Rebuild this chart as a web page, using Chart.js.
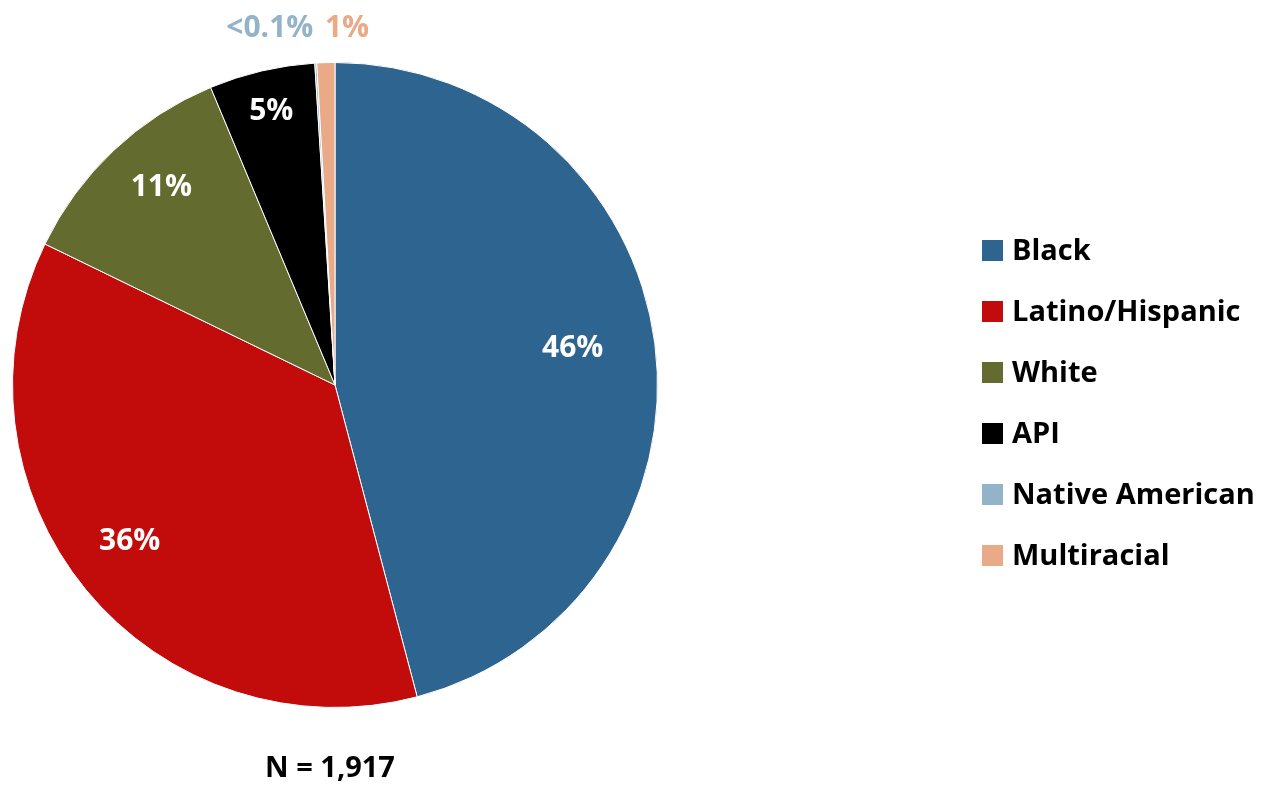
<!DOCTYPE html>
<html>
<head>
<meta charset="utf-8">
<script src="https://cdn.jsdelivr.net/npm/chart.js@4/dist/chart.umd.min.js"></script>
<style>
  html, body { margin: 0; padding: 0; background: #fff; }
  #wrap { width: 1274px; height: 785px; position: relative; }
</style>
</head>
<body>
<div id="wrap"><canvas id="myChart" width="1274" height="785"></canvas></div>
<script>
var categories = ["Black", "Latino/Hispanic", "White", "API", "Native American", "Multiracial"];
var shares = [45.9, 36.3, 11.5, 5.3, 0.1, 0.9];
var pctLabels = ["46%", "36%", "11%", "5%", "<0.1%", "1%"];
var colors = ["#2E6590", "#C20B0B", "#636B2F", "#000000", "#93B3C8", "#EAA987"];
var sampleNote = "N = 1,917";

var FONT = "'Open Sans', Lato, sans-serif";

// where each percentage sits: fraction of radius, nudges, text colour
var labelPlace = [
    { rf: 0.74, dx: 1, dy: -6, color: "#fff" },
    { rf: 0.80, dx: -6, dy: -7, color: "#fff" },
    { rf: 0.82, dx: 8, dy: -5, color: "#fff" },
    { rf: 0.87, dx: 0, dy: 0, color: "#fff" },
    { rf: 1.10, dx: -44, dy: -2, color: "#93B3C8" },
    { rf: 1.10, dx: 22, dy: -2, color: "#EAA987" }
];

var pieLabels = {
    id: 'pieLabels',
    afterDatasetsDraw: function(chart) {
        var c = chart.ctx;
        var arcs = chart.getDatasetMeta(0).data;
        c.save();
        c.font = "bold 30px " + FONT;
        c.textAlign = "center";
        c.textBaseline = "middle";
        arcs.forEach(function(arc, i) {
            var p = arc.getProps(['x', 'y', 'startAngle', 'endAngle', 'outerRadius'], true);
            var mid = (p.startAngle + p.endAngle) / 2;
            var r = p.outerRadius * labelPlace[i].rf;
            c.fillStyle = labelPlace[i].color;
            c.fillText(pctLabels[i], p.x + Math.cos(mid) * r + labelPlace[i].dx,
                       p.y + Math.sin(mid) * r + labelPlace[i].dy);
        });
        // sample size under the pie
        var a0 = arcs[0].getProps(['x', 'y', 'outerRadius'], true);
        c.fillStyle = "#000";
        c.font = "bold 29px " + FONT;
        c.fillText(sampleNote, a0.x - 5, a0.y + a0.outerRadius + 61);
        c.restore();
    }
};

var sideLegend = {
    id: 'sideLegend',
    afterDraw: function(chart) {
        var c = chart.ctx;
        c.save();
        c.font = "bold 29px " + FONT;
        c.textBaseline = "middle";
        c.textAlign = "left";
        categories.forEach(function(name, i) {
            var y = 250 + i * 61;
            c.fillStyle = colors[i];
            c.fillRect(982, y - 10, 21, 21);
            c.fillStyle = "#000";
            c.fillText(name, 1012, y + 2);
        });
        c.restore();
    }
};

var ctx = document.getElementById("myChart");
var myPie = new Chart(ctx, {
    type: 'pie',
    data: {
        labels: categories,
        datasets: [{
            data: shares,
            backgroundColor: colors,
            borderColor: '#ffffff',
            borderWidth: 1
        }]
    },
    options: {
        responsive: false,
        animation: false,
        layout: { padding: { left: 12, right: 616, top: 62, bottom: 77 } },
        plugins: {
            legend: { display: false },
            tooltip: { enabled: false }
        }
    },
    plugins: [pieLabels, sideLegend]
});
</script>
</body>
</html>
